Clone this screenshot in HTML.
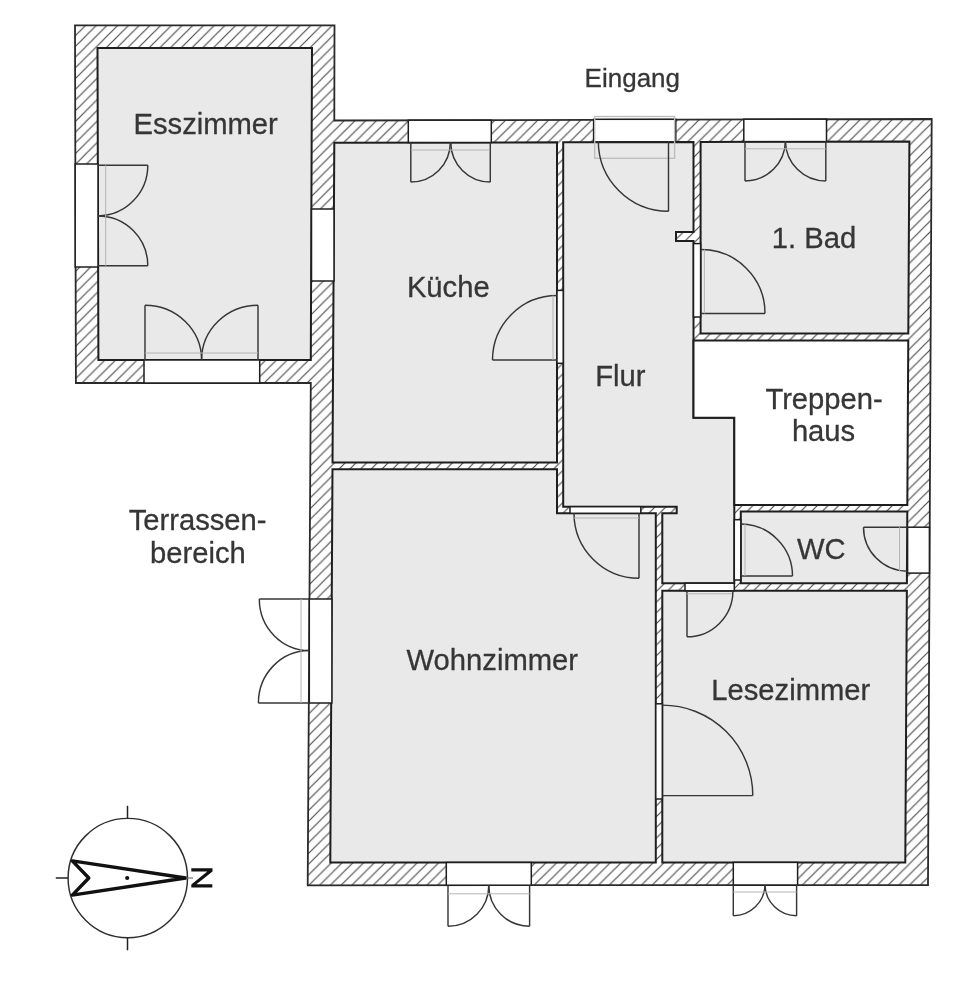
<!DOCTYPE html>
<html><head><meta charset="utf-8"><title>Grundriss</title>
<style>
html,body{margin:0;padding:0;background:#fff;}
svg{display:block;filter:blur(0.4px);}
text{font-family:"Liberation Sans",sans-serif;fill:#363636;}
</style></head>
<body>
<svg width="960" height="991" viewBox="0 0 960 991">
<defs><pattern id="h" patternUnits="userSpaceOnUse" x="3.8" y="0" width="10.724" height="10.724">
<rect width="10.724" height="10.724" fill="#ffffff"/>
<path d="M-2,2 L2,-2 M0,10.724 L10.724,0 M8.724,12.724 L12.724,8.724" stroke="#4a4a4a" stroke-width="1.15"/>
</pattern></defs>
<rect width="960" height="991" fill="#ffffff"/>
<polygon points="75.00,25.30 334.50,25.30 334.30,120.50 931.70,119.00 928.00,885.00 307.70,885.30 310.80,383.00 75.90,383.00" fill="url(#h)" stroke="#2a2a2a" stroke-width="1.8" stroke-linejoin="miter" />
<polygon points="97.50,48.00 312.00,48.00 310.80,360.00 98.40,360.00" fill="#e9e9e9" stroke="#1e1e1e" stroke-width="2.0" stroke-linejoin="miter" />
<polygon points="334.30,142.80 557.00,142.30 557.00,462.50 332.52,462.50" fill="#e9e9e9" stroke="#1e1e1e" stroke-width="2.0" stroke-linejoin="miter" />
<polygon points="332.48,469.20 557.00,469.20 557.00,513.30 655.80,513.30 655.80,862.50 330.30,862.50" fill="#e9e9e9" stroke="#1e1e1e" stroke-width="2.0" stroke-linejoin="miter" />
<polygon points="563.20,142.28 693.50,141.99 693.50,232.00 676.00,232.00 676.00,241.00 693.50,241.00 693.50,417.70 734.30,417.70 734.30,583.20 662.30,583.20 662.30,513.30 676.70,513.30 676.70,506.70 563.20,506.70" fill="#e9e9e9" stroke="#1e1e1e" stroke-width="2.0" stroke-linejoin="miter" />
<polygon points="700.60,141.97 909.40,141.50 908.31,333.40 700.60,333.40" fill="#e9e9e9" stroke="#1e1e1e" stroke-width="2.0" stroke-linejoin="miter" />
<polygon points="693.50,340.50 908.27,340.50 907.33,505.00 734.30,505.00 734.30,417.70 693.50,417.70" fill="#ffffff" stroke="#1e1e1e" stroke-width="2.0" stroke-linejoin="miter" />
<polygon points="740.80,511.60 907.30,511.60 906.89,583.20 740.80,583.20" fill="#e9e9e9" stroke="#1e1e1e" stroke-width="2.0" stroke-linejoin="miter" />
<polygon points="662.30,590.80 906.85,590.80 905.30,862.50 662.30,862.50" fill="#e9e9e9" stroke="#1e1e1e" stroke-width="2.0" stroke-linejoin="miter" />
<rect x="75.20" y="164.00" width="22.80" height="103.00" fill="#ffffff" stroke="#1e1e1e" stroke-width="1.5"/>
<rect x="311.50" y="209.00" width="22.50" height="72.00" fill="#ffffff" stroke="#1e1e1e" stroke-width="1.5"/>
<rect x="144.00" y="360.00" width="115.70" height="23.00" fill="#ffffff" stroke="#1e1e1e" stroke-width="1.5"/>
<rect x="408.30" y="120.20" width="83.00" height="22.30" fill="#ffffff" stroke="#1e1e1e" stroke-width="1.5"/>
<rect x="593.60" y="119.30" width="82.20" height="22.50" fill="#ffffff" stroke="#1e1e1e" stroke-width="1.5"/>
<rect x="743.80" y="119.20" width="82.70" height="22.40" fill="#ffffff" stroke="#1e1e1e" stroke-width="1.5"/>
<rect x="907.60" y="527.20" width="21.80" height="45.90" fill="#ffffff" stroke="#1e1e1e" stroke-width="1.5"/>
<rect x="309.30" y="599.00" width="22.60" height="104.00" fill="#ffffff" stroke="#1e1e1e" stroke-width="1.5"/>
<rect x="446.30" y="862.50" width="85.00" height="22.70" fill="#ffffff" stroke="#1e1e1e" stroke-width="1.5"/>
<rect x="733.30" y="862.40" width="64.30" height="22.60" fill="#ffffff" stroke="#1e1e1e" stroke-width="1.5"/>
<rect x="557.00" y="290.40" width="6.20" height="72.90" fill="#ffffff" stroke="#1e1e1e" stroke-width="1.5"/>
<rect x="570.00" y="506.70" width="70.80" height="6.60" fill="#ffffff" stroke="#1e1e1e" stroke-width="1.5"/>
<rect x="655.80" y="703.80" width="6.50" height="95.20" fill="#ffffff" stroke="#1e1e1e" stroke-width="1.5"/>
<rect x="693.50" y="243.60" width="7.10" height="73.40" fill="#ffffff" stroke="#1e1e1e" stroke-width="1.5"/>
<rect x="734.30" y="519.70" width="6.50" height="60.30" fill="#ffffff" stroke="#1e1e1e" stroke-width="1.5"/>
<rect x="685.00" y="583.20" width="49.30" height="7.60" fill="#ffffff" stroke="#1e1e1e" stroke-width="1.5"/>
<line x1="98.00" y1="165.30" x2="147.80" y2="165.30" stroke="#363636" stroke-width="1.45"/>
<line x1="98.00" y1="265.80" x2="147.80" y2="265.80" stroke="#363636" stroke-width="1.45"/>
<path d="M147.80,165.30 A50.60,50.60 0 0 1 98.00,216.00" fill="none" stroke="#363636" stroke-width="1.45"/>
<path d="M147.80,265.80 A49.80,49.80 0 0 0 98.00,216.00" fill="none" stroke="#363636" stroke-width="1.45"/>
<line x1="105.70" y1="165.30" x2="105.70" y2="265.80" stroke="#b4b4b4" stroke-width="1.0"/>
<line x1="145.00" y1="360.00" x2="145.00" y2="305.30" stroke="#363636" stroke-width="1.45"/>
<line x1="258.00" y1="360.00" x2="258.00" y2="305.30" stroke="#363636" stroke-width="1.45"/>
<path d="M145,305.3 A56.6,54.7 0 0 1 201.6,360" fill="none" stroke="#363636" stroke-width="1.45"/>
<path d="M258,305.3 A56.4,54.7 0 0 0 201.6,360" fill="none" stroke="#363636" stroke-width="1.45"/>
<line x1="145.00" y1="353.00" x2="258.00" y2="353.00" stroke="#b4b4b4" stroke-width="1.0"/>
<line x1="410.80" y1="142.50" x2="410.80" y2="182.00" stroke="#363636" stroke-width="1.45"/>
<line x1="490.30" y1="142.50" x2="490.30" y2="182.00" stroke="#363636" stroke-width="1.45"/>
<path d="M410.80,182.00 A39.50,39.50 0 0 0 450.30,142.50" fill="none" stroke="#363636" stroke-width="1.45"/>
<path d="M490.30,182.00 A39.50,39.50 0 0 1 450.80,142.50" fill="none" stroke="#363636" stroke-width="1.45"/>
<line x1="411.00" y1="150.00" x2="490.00" y2="150.00" stroke="#b4b4b4" stroke-width="1.0"/>
<rect x="594.70" y="116.50" width="79.90" height="41.80" fill="none" stroke="#bdbdbd" stroke-width="1.4"/>
<line x1="668.50" y1="141.30" x2="668.50" y2="211.30" stroke="#363636" stroke-width="1.45"/>
<path d="M598.30,141.30 A70.20,70.20 0 0 0 668.50,211.30" fill="none" stroke="#363636" stroke-width="1.45"/>
<line x1="745.00" y1="141.00" x2="745.00" y2="181.00" stroke="#363636" stroke-width="1.45"/>
<line x1="825.80" y1="141.00" x2="825.80" y2="181.00" stroke="#363636" stroke-width="1.45"/>
<path d="M745.00,181.00 A40.40,40.40 0 0 0 785.40,141.00" fill="none" stroke="#363636" stroke-width="1.45"/>
<path d="M825.80,181.00 A40.40,40.40 0 0 1 785.40,141.00" fill="none" stroke="#363636" stroke-width="1.45"/>
<line x1="745.00" y1="148.80" x2="825.80" y2="148.80" stroke="#b4b4b4" stroke-width="1.0"/>
<line x1="557.00" y1="360.00" x2="492.50" y2="360.00" stroke="#363636" stroke-width="1.45"/>
<path d="M492.50,360.00 A64.50,64.50 0 0 1 557.00,295.50" fill="none" stroke="#363636" stroke-width="1.45"/>
<line x1="553.00" y1="295.50" x2="553.00" y2="360.00" stroke="#b4b4b4" stroke-width="1.0"/>
<line x1="701.00" y1="313.40" x2="765.00" y2="313.40" stroke="#363636" stroke-width="1.45"/>
<path d="M701.00,249.40 A64.00,64.00 0 0 1 765.00,313.40" fill="none" stroke="#363636" stroke-width="1.45"/>
<line x1="704.40" y1="249.40" x2="704.40" y2="313.40" stroke="#b4b4b4" stroke-width="1.0"/>
<line x1="639.00" y1="513.30" x2="639.00" y2="578.30" stroke="#363636" stroke-width="1.45"/>
<path d="M574.00,513.30 A65.00,65.00 0 0 0 639.00,578.30" fill="none" stroke="#363636" stroke-width="1.45"/>
<line x1="574.00" y1="518.00" x2="639.00" y2="518.00" stroke="#b4b4b4" stroke-width="1.0"/>
<line x1="741.00" y1="576.00" x2="792.50" y2="576.00" stroke="#363636" stroke-width="1.45"/>
<path d="M741.00,524.00 A52.00,52.00 0 0 1 792.50,576.00" fill="none" stroke="#363636" stroke-width="1.45"/>
<line x1="745.00" y1="524.00" x2="745.00" y2="576.00" stroke="#b4b4b4" stroke-width="1.0"/>
<line x1="907.60" y1="527.20" x2="863.50" y2="527.20" stroke="#363636" stroke-width="1.45"/>
<path d="M863.50,527.20 A44.00,44.00 0 0 0 907.60,571.20" fill="none" stroke="#363636" stroke-width="1.45"/>
<line x1="899.60" y1="527.20" x2="899.60" y2="571.20" stroke="#b4b4b4" stroke-width="1.0"/>
<line x1="687.00" y1="591.00" x2="687.00" y2="636.80" stroke="#363636" stroke-width="1.45"/>
<path d="M687.00,636.80 A45.90,45.90 0 0 0 732.90,591.00" fill="none" stroke="#363636" stroke-width="1.45"/>
<line x1="687.00" y1="593.80" x2="732.00" y2="593.80" stroke="#b4b4b4" stroke-width="1.0"/>
<line x1="662.30" y1="795.60" x2="752.80" y2="795.60" stroke="#363636" stroke-width="1.45"/>
<path d="M752.80,795.60 A90.50,90.50 0 0 0 662.30,705.10" fill="none" stroke="#363636" stroke-width="1.45"/>
<line x1="309.30" y1="599.00" x2="259.30" y2="599.00" stroke="#363636" stroke-width="1.45"/>
<line x1="309.30" y1="703.00" x2="258.40" y2="703.00" stroke="#363636" stroke-width="1.45"/>
<path d="M259.3,599 A50,51.5 0 0 0 309.3,650.5" fill="none" stroke="#363636" stroke-width="1.45"/>
<path d="M258.4,703 A50.9,52.5 0 0 1 309.3,650.5" fill="none" stroke="#363636" stroke-width="1.45"/>
<line x1="301.00" y1="599.00" x2="301.00" y2="703.00" stroke="#b4b4b4" stroke-width="1.0"/>
<line x1="448.00" y1="885.20" x2="448.00" y2="926.20" stroke="#363636" stroke-width="1.45"/>
<line x1="529.60" y1="885.20" x2="529.60" y2="926.20" stroke="#363636" stroke-width="1.45"/>
<path d="M448.00,926.20 A40.80,40.80 0 0 0 488.80,885.20" fill="none" stroke="#363636" stroke-width="1.45"/>
<path d="M529.60,926.20 A40.80,40.80 0 0 1 488.80,885.20" fill="none" stroke="#363636" stroke-width="1.45"/>
<line x1="448.00" y1="893.80" x2="529.60" y2="893.80" stroke="#b4b4b4" stroke-width="1.0"/>
<line x1="733.30" y1="885.00" x2="733.30" y2="915.80" stroke="#363636" stroke-width="1.45"/>
<line x1="796.60" y1="885.00" x2="796.60" y2="915.80" stroke="#363636" stroke-width="1.45"/>
<path d="M733.30,915.80 A31.70,31.70 0 0 0 765.00,885.00" fill="none" stroke="#363636" stroke-width="1.45"/>
<path d="M796.60,915.80 A31.60,31.60 0 0 1 765.00,885.00" fill="none" stroke="#363636" stroke-width="1.45"/>
<line x1="733.30" y1="892.00" x2="796.60" y2="892.00" stroke="#b4b4b4" stroke-width="1.0"/>
<circle cx="127.8" cy="878.1" r="59.7" fill="none" stroke="#2e2e2e" stroke-width="1.45"/>
<line x1="127.50" y1="805.80" x2="127.50" y2="818.40" stroke="#222" stroke-width="1.5"/>
<line x1="127.50" y1="937.80" x2="127.50" y2="950.30" stroke="#222" stroke-width="1.5"/>
<line x1="55.80" y1="878.00" x2="68.20" y2="878.00" stroke="#222" stroke-width="1.5"/>
<polygon points="185.6,878.0 72.3,860.9 88.8,878.0 72.3,895.1" fill="none" stroke="#111" stroke-width="3.4" stroke-linejoin="round"/>
<line x1="186.00" y1="878.00" x2="193.00" y2="878.00" stroke="#777" stroke-width="1.2"/>
<circle cx="127.2" cy="878.0" r="2.1" fill="#111"/>
<polygon points="191.3,868.2 212.5,868.2 212.5,871.5 196.4,884.3 212.3,884.3 212.3,887.6 191.3,887.6 191.3,884.4 207.3,871.5 191.3,871.5" fill="#111"/>
<text x="133.50" y="134.30" font-size="29.2" stroke="#363636" stroke-width="0.3">Esszimmer</text>
<text x="406.90" y="296.90" font-size="29.2" stroke="#363636" stroke-width="0.3">Küche</text>
<text x="595.20" y="385.60" font-size="29.2" stroke="#363636" stroke-width="0.3">Flur</text>
<text x="771.80" y="247.50" font-size="29.2" stroke="#363636" stroke-width="0.3">1. Bad</text>
<text x="765.40" y="409.40" font-size="29.2" stroke="#363636" stroke-width="0.3">Treppen-</text>
<text x="791.90" y="441.40" font-size="29.2" stroke="#363636" stroke-width="0.3">haus</text>
<text x="406.60" y="669.80" font-size="29.2" stroke="#363636" stroke-width="0.3">Wohnzimmer</text>
<text x="711.30" y="700.20" font-size="29.2" stroke="#363636" stroke-width="0.3">Lesezimmer</text>
<text x="797.00" y="559.20" font-size="29.2" stroke="#363636" stroke-width="0.3">WC</text>
<text x="128.70" y="529.70" font-size="29.2" stroke="#363636" stroke-width="0.3">Terrassen-</text>
<text x="150.00" y="563.30" font-size="29.2" stroke="#363636" stroke-width="0.3">bereich</text>
<text x="584.60" y="87.20" font-size="26" stroke="#363636" stroke-width="0.3">Eingang</text>
</svg>
</body></html>
